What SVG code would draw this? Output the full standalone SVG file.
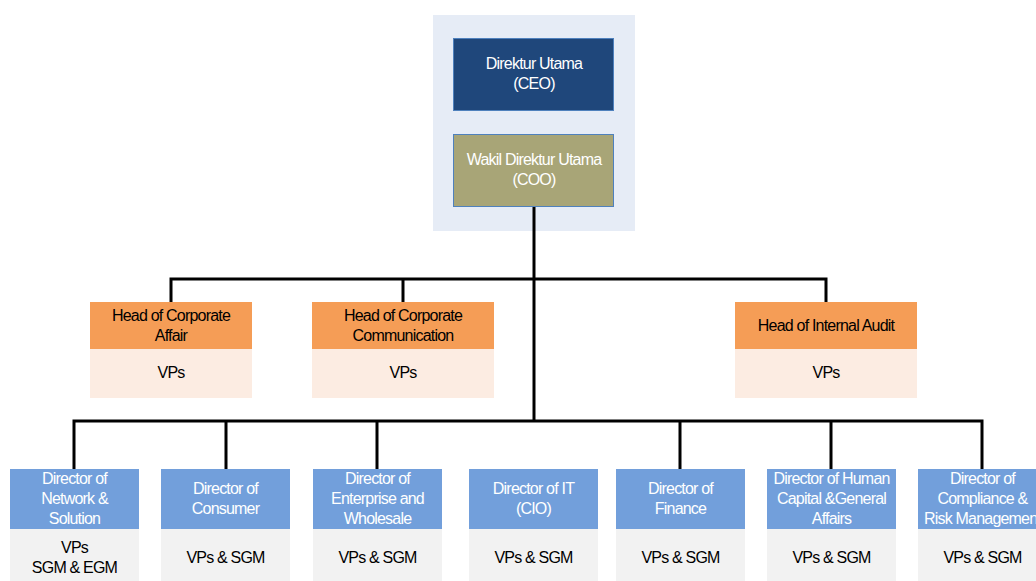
<svg xmlns="http://www.w3.org/2000/svg" width="1036" height="581" viewBox="0 0 1036 581">
  <style>
    text { font-family: "Liberation Sans", Arial, sans-serif; font-size: 16px; letter-spacing: -0.8px; text-anchor: middle; }
    .w { fill: #ffffff; }
    .k { fill: #000000; }
    .top { stroke: #4F81BD; stroke-width: 1; }
    .ceo { fill: #1F477B; }
    .coo { fill: #A8A577; }
    .head { fill: #F59D56; }
    .headsub { fill: #FCECE2; }
    .dir { fill: #729FDB; }
    .dirsub { fill: #F2F2F2; }
    .conn { stroke: #000000; stroke-width: 3; fill: none; }
  </style>

  <!-- top management panel -->
  <rect x="433" y="15" width="202" height="216" fill="#E6ECF6"/>

  <!-- connectors -->
  <g id="connectors">
    <path class="conn" d="M534 206 V421"/>
    <path class="conn" d="M171 302 V279 H826 V302"/>
    <path class="conn" d="M403 279 V302"/>
    <path class="conn" d="M74 469 V421 H982 V469"/>
    <path class="conn" d="M226 421 V469 M377 421 V469 M680 421 V469 M831 421 V469"/>
  </g>

  <g id="ceo">
    <rect class="ceo top" x="453.5" y="38.5" width="160" height="72"/>
    <text class="w" x="534" y="69">Direktur Utama</text>
    <text class="w" x="534" y="89">(CEO)</text>
  </g>

  <g id="coo">
    <rect class="coo top" x="453.5" y="134.5" width="160" height="72"/>
    <text class="w" x="534" y="165">Wakil Direktur Utama</text>
    <text class="w" x="534" y="185">(COO)</text>
  </g>

  <g id="head-corporate-affair">
    <rect class="head" x="90" y="302" width="162" height="47"/>
    <rect class="headsub" x="90" y="349" width="162" height="49"/>
    <text class="k" x="171" y="321">Head of Corporate</text>
    <text class="k" x="171" y="341">Affair</text>
    <text class="k" x="171" y="378">VPs</text>
  </g>

  <g id="head-corporate-communication">
    <rect class="head" x="312" y="302" width="182" height="47"/>
    <rect class="headsub" x="312" y="349" width="182" height="49"/>
    <text class="k" x="403" y="321">Head of Corporate</text>
    <text class="k" x="403" y="341">Communication</text>
    <text class="k" x="403" y="378">VPs</text>
  </g>

  <g id="head-internal-audit">
    <rect class="head" x="735" y="302" width="182" height="47"/>
    <rect class="headsub" x="735" y="349" width="182" height="49"/>
    <text class="k" x="826" y="331">Head of Internal Audit</text>
    <text class="k" x="826" y="378">VPs</text>
  </g>

  <g id="dir-network">
    <rect class="dir" x="10" y="469" width="129" height="60"/>
    <rect class="dirsub" x="10" y="529" width="129" height="52"/>
    <text class="w" x="74.5" y="484">Director of</text>
    <text class="w" x="74.5" y="504">Network &amp;</text>
    <text class="w" x="74.5" y="524">Solution</text>
    <text class="k" x="74.5" y="553">VPs</text>
    <text class="k" x="74.5" y="573">SGM &amp; EGM</text>
  </g>

  <g id="dir-consumer">
    <rect class="dir" x="161" y="469" width="129" height="60"/>
    <rect class="dirsub" x="161" y="529" width="129" height="52"/>
    <text class="w" x="225.5" y="494">Director of</text>
    <text class="w" x="225.5" y="514">Consumer</text>
    <text class="k" x="225.5" y="563">VPs &amp; SGM</text>
  </g>

  <g id="dir-enterprise">
    <rect class="dir" x="313" y="469" width="129" height="60"/>
    <rect class="dirsub" x="313" y="529" width="129" height="52"/>
    <text class="w" x="377.5" y="484">Director of</text>
    <text class="w" x="377.5" y="504">Enterprise and</text>
    <text class="w" x="377.5" y="524">Wholesale</text>
    <text class="k" x="377.5" y="563">VPs &amp; SGM</text>
  </g>

  <g id="dir-it">
    <rect class="dir" x="469" y="469" width="129" height="60"/>
    <rect class="dirsub" x="469" y="529" width="129" height="52"/>
    <text class="w" x="533.5" y="494">Director of IT</text>
    <text class="w" x="533.5" y="514">(CIO)</text>
    <text class="k" x="533.5" y="563">VPs &amp; SGM</text>
  </g>

  <g id="dir-finance">
    <rect class="dir" x="616" y="469" width="129" height="60"/>
    <rect class="dirsub" x="616" y="529" width="129" height="52"/>
    <text class="w" x="680.5" y="494">Director of</text>
    <text class="w" x="680.5" y="514">Finance</text>
    <text class="k" x="680.5" y="563">VPs &amp; SGM</text>
  </g>

  <g id="dir-human-capital">
    <rect class="dir" x="767" y="469" width="129" height="60"/>
    <rect class="dirsub" x="767" y="529" width="129" height="52"/>
    <text class="w" x="831.5" y="484">Director of Human</text>
    <text class="w" x="831.5" y="504">Capital &amp;General</text>
    <text class="w" x="831.5" y="524">Affairs</text>
    <text class="k" x="831.5" y="563">VPs &amp; SGM</text>
  </g>

  <g id="dir-compliance">
    <rect class="dir" x="918" y="469" width="129" height="60"/>
    <rect class="dirsub" x="918" y="529" width="129" height="52"/>
    <text class="w" x="982.5" y="484">Director of</text>
    <text class="w" x="982.5" y="504">Compliance &amp;</text>
    <text class="w" x="982.5" y="524">Risk Management</text>
    <text class="k" x="982.5" y="563">VPs &amp; SGM</text>
  </g>
</svg>
